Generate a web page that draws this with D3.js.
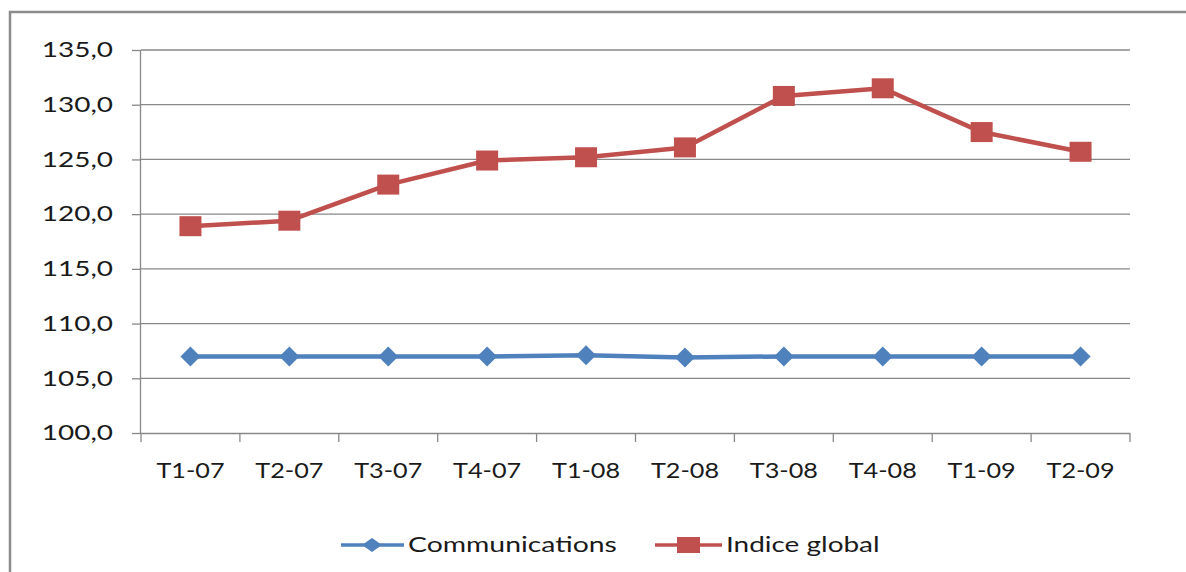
<!DOCTYPE html>
<html><head><meta charset="utf-8">
<script src="https://cdn.jsdelivr.net/npm/d3@7"></script>
<style>
html,body{margin:0;padding:0;background:#fff;}
svg{display:block;}
text{font-family:Lato,"Open Sans",sans-serif;fill:#1a1a1a;}
</style></head><body>
<svg id="c" width="1186" height="572"></svg>
<script>
const categories = ["T1-07","T2-07","T3-07","T4-07","T1-08","T2-08","T3-08","T4-08","T1-09","T2-09"];
const communications = [107.0,107.0,107.0,107.0,107.1,106.9,107.0,107.0,107.0,107.0];
const indiceGlobal = [118.9,119.4,122.7,124.9,125.2,126.1,130.8,131.5,127.5,125.7];
const yTicks = [100,105,110,115,120,125,130,135];
const seriesNames = ["Communications","Indice global"];

(function(){
const svg = d3.select("#c");
const blue = "#4F81BD", red = "#C0504D", grid = "#888888";
const pL = 141, pR = 1130, pT = 50, pB = 433;
const fs = 21;
function stretch(sel, k){
  sel.each(function(){
    const w = this.getComputedTextLength();
    d3.select(this).attr("textLength", w*k).attr("lengthAdjust","spacingAndGlyphs");
  });
}

// outer frame
svg.append("rect").attr("x",10).attr("y",12).attr("width",1200).attr("height",600)
  .attr("fill","none").attr("stroke","#8c8c8c").attr("stroke-width",2.5);

const x = d3.scaleBand().domain(categories).range([pL,pR]);
const y = d3.scaleLinear().domain([100,135]).range([pB,pT]);

// gridlines
svg.append("g").selectAll("line").data(yTicks.slice(1)).join("line")
  .attr("x1",pL).attr("x2",pR).attr("y1",d=>y(d)).attr("y2",d=>y(d))
  .attr("stroke",grid).attr("stroke-width",1.3);

// y axis
const ya = svg.append("g").attr("transform",`translate(${pL},0)`)
  .call(d3.axisLeft(y).tickValues(yTicks).tickSize(9).tickPadding(19)
    .tickFormat(d=>d3.format(".1f")(d).replace(".",",")));
ya.select(".domain").attr("stroke",grid).attr("stroke-width",1.3).attr("d",`M-0.5,${pT}V${pB}`);
ya.selectAll(".tick line").attr("stroke",grid).attr("stroke-width",1.3);
ya.selectAll("text").attr("font-size",fs).attr("fill","#1a1a1a").style("font-family","Lato, 'Open Sans', sans-serif");
stretch(ya.selectAll("text"), 1.33);

// x axis
const xa = svg.append("g").attr("transform",`translate(0,${pB})`)
  .call(d3.axisBottom(x).tickSize(0).tickPadding(30));
xa.select(".domain").attr("stroke",grid).attr("stroke-width",1.3).attr("d",`M${pL},0.5H${pR}`);
xa.selectAll("text").attr("font-size",fs).attr("fill","#1a1a1a").style("font-family","Lato, 'Open Sans', sans-serif");
stretch(xa.selectAll("text"), 1.2);
const bounds = categories.map(c=>x(c)).concat([pR]);
svg.append("g").selectAll("line").data(bounds).join("line")
  .attr("x1",d=>d).attr("x2",d=>d).attr("y1",pB).attr("y2",pB+9)
  .attr("stroke",grid).attr("stroke-width",1.3);

const cx = c => x(c) + x.bandwidth()/2;
const line = d3.line().x((d,i)=>cx(categories[i])).y(d=>y(d));

// Communications
svg.append("path").datum(communications).attr("d",line).attr("fill","none")
  .attr("stroke",blue).attr("stroke-width",4.5).attr("stroke-linejoin","round");
svg.append("g").selectAll("path").data(communications).join("path")
  .attr("d",(d,i)=>{const px=cx(categories[i]),py=y(d);return `M${px-10},${py}L${px},${py-10}L${px+10},${py}L${px},${py+10}Z`;})
  .attr("fill",blue);

// Indice global
svg.append("path").datum(indiceGlobal).attr("d",line).attr("fill","none")
  .attr("stroke",red).attr("stroke-width",4.5).attr("stroke-linejoin","round");
svg.append("g").selectAll("rect").data(indiceGlobal).join("rect")
  .attr("x",(d,i)=>cx(categories[i])-11).attr("y",d=>y(d)-10).attr("width",22).attr("height",20)
  .attr("fill",red);

// legend
const ly = 545;
const lg = svg.append("g");
lg.append("line").attr("x1",341).attr("x2",404).attr("y1",ly).attr("y2",ly).attr("stroke",blue).attr("stroke-width",3.5);
lg.append("path").attr("d",`M362,${ly}L372,${ly-7}L382,${ly}L372,${ly+7}Z`).attr("fill",blue);
const t1 = lg.append("text").attr("x",408).attr("y",ly).attr("dy","0.35em").attr("font-size",fs).text(seriesNames[0]);
lg.append("line").attr("x1",655).attr("x2",722).attr("y1",ly).attr("y2",ly).attr("stroke",red).attr("stroke-width",3.5);
lg.append("rect").attr("x",677).attr("y",ly-8).attr("width",23).attr("height",16).attr("fill",red);
const t2 = lg.append("text").attr("x",726).attr("y",ly).attr("dy","0.35em").attr("font-size",fs).text(seriesNames[1]);
stretch(t1, 1.35);
stretch(t2, 1.33);
})();
</script>
</body></html>
